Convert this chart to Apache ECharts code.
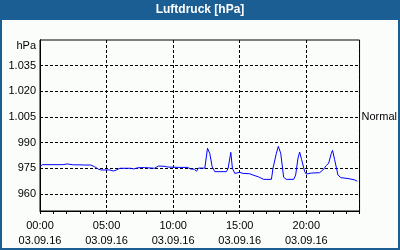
<!DOCTYPE html>
<html>
<head>
<meta charset="utf-8">
<script src="https://cdn.jsdelivr.net/npm/echarts@6/dist/echarts.min.js"></script>
<style>
html,body{margin:0;padding:0;background:#fbfdfb;}
#c{width:400px;height:250px;}
</style>
</head>
<body>
<div id="c"></div>
<script>
const chartTitle = 'Luftdruck [hPa]';
const unitLabel = 'hPa';
const dateLabel = '03.09.16';
const hours = [0.0,0.2,1.7,1.85,2.05,2.2,2.5,3.0,3.15,3.3,3.8,4.1,4.4,4.6,5.25,5.5,5.75,6.0,6.8,7.05,7.35,7.85,8.0,8.6,8.9,9.4,9.6,10.5,11.1,11.3,11.6,11.75,11.9,12.38,12.58,12.75,12.93,13.13,14.0,14.13,14.33,14.45,14.63,15.0,15.25,15.75,16.0,16.4,16.8,17.38,17.5,17.75,17.9,18.08,18.3,18.5,19.05,19.2,19.38,19.5,19.65,19.88,20.0,20.4,21.0,21.25,21.5,21.68,21.88,21.97,22.13,22.38,22.6,23.13,23.25,23.63,23.83];
const pressure = [976.3,977.1,977.1,977.5,977.5,976.4,977.0,977.0,976.5,976.9,976.9,975.9,974.4,974.0,974.0,973.4,974.0,975.0,975.0,974.6,975.3,975.4,975.0,975.0,976.3,976.1,975.7,975.5,975.5,974.6,974.4,973.2,975.1,975.1,986.7,983.7,975.9,973.0,973.0,975.0,984.3,975.0,972.0,972.6,972.0,971.8,971.0,970.0,968.5,968.5,975.0,983.7,987.8,983.7,969.7,968.5,968.5,971.0,981.0,984.5,980.0,973.0,971.6,972.2,972.4,974.0,976.5,978.0,983.7,985.5,980.0,971.0,969.5,969.0,968.3,968.2,967.4];
const yTicks = [960,975,990,1005,1020,1035];
const normalValue = 1005;
const normalLabel = 'Normal';
const xLabelHours = [0,5,10,15,20];

const data = hours.map((h,i)=>[h,pressure[i]]);
const font = 'Liberation Sans';
const chart = echarts.init(document.getElementById('c'));
const pad = n => (n<10?'0':'')+n;
chart.setOption({
  animation:false,
  backgroundColor:'#fbfdfb',
  textStyle:{fontFamily:font},
  graphic:[
    {type:'rect',shape:{x:0,y:0,width:400,height:20},style:{fill:'#1b5e93'},z:0},
    {type:'rect',shape:{x:1,y:1,width:398,height:248},style:{fill:'none',stroke:'#1b5e93',lineWidth:2},z:1},
    {type:'text',x:200,y:10,style:{text:chartTitle,fill:'#ffffff',font:'bold 12px "Liberation Sans"',textAlign:'center',textVerticalAlign:'middle'},z:2},
    {type:'text',x:36,y:46,style:{text:unitLabel,fill:'#000',font:'11px "Liberation Sans"',textAlign:'right',textVerticalAlign:'middle'},z:2}
  ],
  grid:{left:40,right:40,top:40,bottom:39,show:true,borderColor:'#000',borderWidth:1,backgroundColor:'transparent'},
  xAxis:[
    {type:'value',min:0,max:24,interval:1,position:'bottom',
     axisLine:{show:true,lineStyle:{color:'#000',width:1}},
     axisTick:{show:true,length:3,lineStyle:{color:'#000'}},
     axisLabel:{show:false},splitLine:{show:false}},
    {type:'value',min:0,max:24,interval:5,position:'bottom',
     axisLine:{show:false},axisTick:{show:false},
     axisLabel:{show:true,margin:7,color:'#000',fontSize:11,lineHeight:15,fontFamily:font,
       showMaxLabel:false,
       formatter:v=> (xLabelHours.indexOf(v)>=0) ? pad(v)+':00\n'+dateLabel : ''},
     splitLine:{show:true,lineStyle:{color:'#000',type:[3,2],width:1}}}
  ],
  yAxis:[
    {type:'value',min:950,max:1050,position:'left',
     axisLine:{show:true,lineStyle:{color:'#000'}},
     axisTick:{show:false,customValues:yTicks},
     axisLabel:{customValues:yTicks,margin:4,color:'#000',fontSize:11,fontFamily:font,
       formatter:v=> v>=1000 ? Math.floor(v/1000)+'.'+String(v).slice(1) : String(v)},
     splitLine:{show:true,lineStyle:{color:'#000',type:[3,2],width:1}}},
    {type:'value',min:950,max:1050,position:'right',
     axisLine:{show:true,lineStyle:{color:'#000'}},
     axisTick:{show:true,length:3,customValues:[normalValue],lineStyle:{color:'#000'}},
     axisLabel:{customValues:[normalValue],margin:2,color:'#000',fontSize:11,fontFamily:font,formatter:()=>normalLabel},
     splitLine:{show:false}}
  ],
  series:[{type:'line',xAxisIndex:0,yAxisIndex:0,data:data,symbol:'none',
    lineStyle:{color:'#0000ff',width:1},z:5}]
});
</script>
</body>
</html>
